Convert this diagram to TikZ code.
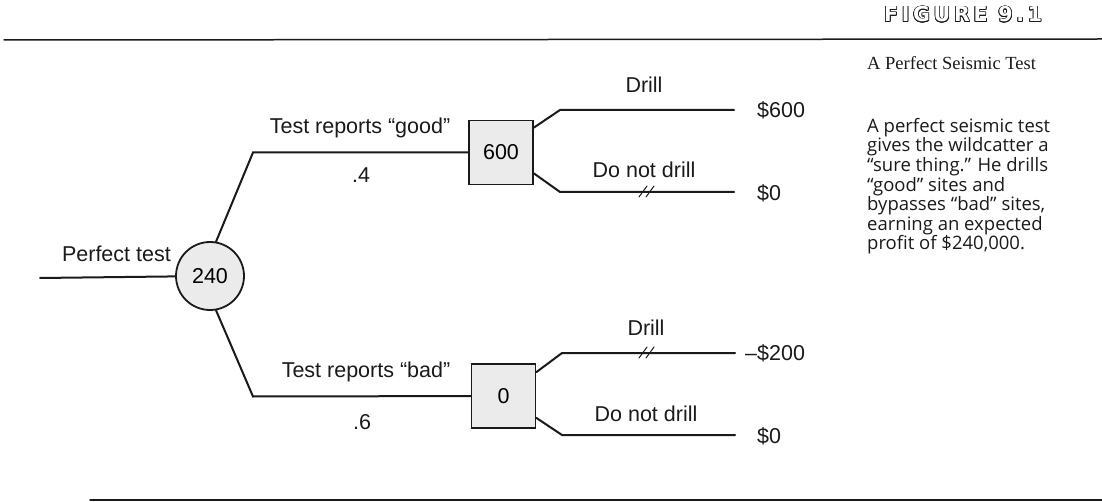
\documentclass[tikz,border=0pt]{standalone}
\usepackage{fontspec}
\setmainfont{Liberation Serif}
\setsansfont{Liberation Sans}
\newfontfamily\noteFont{Open Sans}
\newfontfamily\figFont[LetterSpace=18]{DejaVu Sans}
\usepackage{contour}
\contourlength{0.7pt}
\usetikzlibrary{calc,positioning}
\definecolor{dtInk}{HTML}{1A1A1A}
\definecolor{dtFill}{HTML}{EBEBEB}

\tikzset{
  branch/.style={dtInk, line width=2pt},
  rule/.style={dtInk, line width=1.5pt},
  chance/.style={circle, draw=dtInk, line width=1.8pt, fill=dtFill,
                 minimum size=68pt, inner sep=0},
  choice/.style={rectangle, draw=dtInk, line width=1.8pt, fill=dtFill,
                 minimum size=64pt, inner sep=0},
  lbl/.style={anchor=base, inner sep=0, text=dtInk},
  payoff/.style={anchor=west, inner sep=0, text=dtInk},
  brk/.style={dtInk, line width=1pt}
}

% two slashes across a branch
\newcommand{\brkmark}[1]{%
  \draw[brk] ($(#1)+(-8,5)$) -- ($(#1)+(0,-6)$);
  \draw[brk] ($(#1)+(-1,5)$) -- ($(#1)+(7,-6)$);
}

\begin{document}
\begin{tikzpicture}[x=1pt, y=-1pt, line cap=round,
                    font=\sffamily\fontsize{21.5}{24}\selectfont]
\useasboundingbox (0,0) rectangle (1102,502);

% --- rules and heading ---
\coordinate (rTL) at (4,40);
\coordinate (rTR) at (1102,39);
\coordinate (rBL) at (90,500);
\coordinate (rBR) at (1102,500);
\draw[rule] (rTL) -- (rTR);
\draw[rule] (rBL) -- (rBR);
\node[anchor=base west, inner sep=0,
      font=\figFont\bfseries\fontsize{20.5}{22}\selectfont] (fig) at (884,22)
  {\contour{dtInk}{\textcolor{white}{FIGURE 9.1}}};
\node[anchor=base west, inner sep=0, text=dtInk,
      font=\rmfamily\fontsize{18.5}{20}\selectfont] (cap) at (867,70)
  {A Perfect Seismic Test};
% last line sits on the given baseline
\node[anchor=base west, inner sep=0, text=dtInk, align=left,
      font=\noteFont\fontsize{18.5}{19.6}\selectfont] (note) at (867,250)
  {A perfect seismic test\\
   gives the wildcatter a\\
   “sure thing.” He drills\\
   “good” sites and\\
   bypasses “bad” sites,\\
   earning an expected\\
   profit of \$240,000.};

% --- nodes ---
\coordinate (root) at (40,278);
\node[chance] (pt) at (210,276) {240};
\coordinate (gK) at (253,152.5);
\coordinate (bK) at (253,396.5);
\node[choice] (g) at (501,152.5) {600};
\node[choice] (b) at (503.5,396) {0};

% --- payoffs ---
\node[payoff] (gd) at (757,110) {\$600};
\node[payoff] (gn) at (757,193) {\$0};
\node[payoff] (bd) at (745,353) {--\$200};
\node[payoff] (bn) at (757,436) {\$0};

% --- bends on the right ---
\coordinate (gdK) at (560,110);
\coordinate (gnK) at (560,192);
\coordinate (bdK) at (562,353);
\coordinate (bnK) at (562,435);

% --- branches ---
\draw[branch] (root) -- (pt);
\draw[branch] (pt.80) -- (gK) -- (g);
\draw[branch] (pt.-80) -- (bK) -- (b);
\draw[branch, shorten >=23pt] ([yshift=-8pt]g.north east) -- (gdK) -- (gd.west);
\draw[branch, shorten >=23pt] ([yshift=12pt]g.south east) -- (gnK) -- (gn.west |- gnK);
\draw[branch, shorten >=10pt] ([yshift=-9pt]b.north east) -- (bdK) -- (bd.west);
\draw[branch, shorten >=22pt] ([yshift=11pt]b.south east) -- (bnK) -- (bn.west |- bnK);

\coordinate (gnB) at (647,192);
\coordinate (bdB) at (647,353);
\brkmark{gnB}
\brkmark{bdB}

% --- labels ---
\node[anchor=base east, inner sep=0, text=dtInk] (ptL) at (171,262) {Perfect test};
\node[lbl] (gL) at (360,134) {Test reports “good”};
\node[lbl] (gP) at (361,183) {.4};
\node[lbl] (bL) at (366,377) {Test reports “bad”};
\node[lbl] (bP) at (362,429) {.6};
\node[lbl] (gdL) at (644,93) {Drill};
\node[lbl] (gnL) at (644,178) {Do not drill};
\node[lbl] (bdL) at (646,335) {Drill};
\node[lbl] (bnL) at (646,421) {Do not drill};

\end{tikzpicture}
\end{document}
